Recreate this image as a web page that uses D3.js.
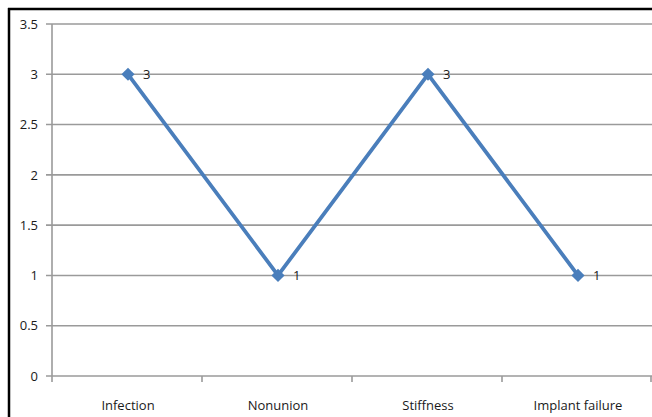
<!DOCTYPE html>
<html><head><meta charset="utf-8">
<script src="https://cdn.jsdelivr.net/npm/d3@7"></script>
<style>body{margin:0;background:#fff;}svg{display:block;font-family:"Open Sans","Liberation Sans",sans-serif;}</style>
</head><body>
<svg id="c" width="652" height="417"></svg>
<script>
const categories = ["Infection","Nonunion","Stiffness","Implant failure"];
const values = [3,1,3,1];
const yTicks = [0,0.5,1,1.5,2,2.5,3,3.5];

const svg = d3.select("#c");
const W = 652, H = 417;
const m = {left:52, right:0, top:24, bottom:41};
const x = d3.scaleBand().domain(categories).range([m.left, W - m.right]);
const y = d3.scaleLinear().domain([0,3.5]).range([H - m.bottom, m.top]);

svg.append("rect").attr("width",W).attr("height",H).attr("fill","#fff");
// frame
svg.append("line").attr("x1",9).attr("x2",9).attr("y1",8).attr("y2",H).attr("stroke","#000").attr("stroke-width",2.5);
svg.append("line").attr("x1",8).attr("x2",W).attr("y1",9).attr("y2",9).attr("stroke","#000").attr("stroke-width",2.5);

// grid
const g = svg.append("g");
g.selectAll("line.grid").data(yTicks).join("line")
  .attr("x1",m.left-6).attr("x2",W).attr("y1",d=>y(d)).attr("y2",d=>y(d))
  .attr("stroke","#9a9a9a").attr("stroke-width",1.6);
// y axis
g.append("line").attr("x1",m.left).attr("x2",m.left).attr("y1",y(3.5)).attr("y2",y(0)+6)
  .attr("stroke","#9a9a9a").attr("stroke-width",1.6);
g.selectAll("text.yl").data(yTicks).join("text")
  .attr("x",38).attr("y",d=>y(d)).attr("dy","0.36em").attr("text-anchor","end")
  .attr("font-size",13).attr("fill","#1a1a1a").text(d=>d);
// x ticks
const bounds = categories.map(c=>x(c)+x.bandwidth());
g.selectAll("line.xt").data(bounds).join("line")
  .attr("x1",d=>Math.min(d,W-1)).attr("x2",d=>Math.min(d,W-1)).attr("y1",y(0)).attr("y2",y(0)+6)
  .attr("stroke","#9a9a9a").attr("stroke-width",1.6);
g.selectAll("text.xl").data(categories).join("text")
  .attr("x",d=>x(d)+x.bandwidth()/2+1).attr("y",410).attr("text-anchor","middle")
  .attr("font-size",13).attr("fill","#1a1a1a").text(d=>d);

// line
const pts = categories.map((c,i)=>[x(c)+x.bandwidth()/2+1, y(values[i])]);
svg.append("path").attr("d",d3.line()(pts)).attr("fill","none")
  .attr("stroke","#4a7ebb").attr("stroke-width",3.8).attr("stroke-linejoin","round");
svg.selectAll("path.mk").data(pts).join("path")
  .attr("d",d3.symbol(d3.symbolDiamond2,110)())
  .attr("transform",d=>`translate(${d[0]},${d[1]})`).attr("fill","#4a7ebb");
svg.selectAll("text.dl").data(pts).join("text")
  .attr("x",d=>d[0]+15).attr("y",d=>d[1]).attr("dy","0.36em")
  .attr("font-size",13).attr("fill","#1a1a1a").text((d,i)=>values[i]);
</script>
</body></html>
